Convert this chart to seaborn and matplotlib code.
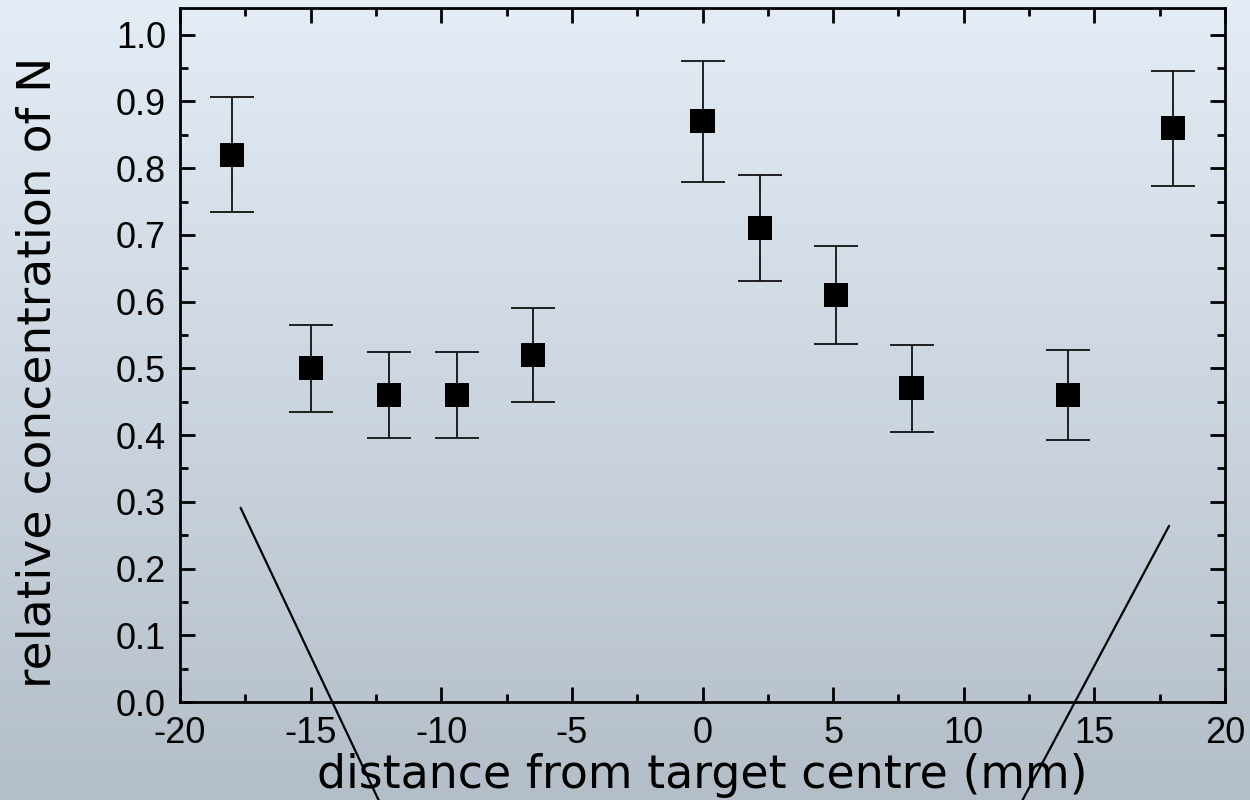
import matplotlib
matplotlib.use("Agg")
import matplotlib.pyplot as plt
import numpy as np
import pandas as pd
import seaborn as sns
from matplotlib.ticker import MultipleLocator

# measured points
distance_mm = [-18.0, -15.0, -12.0, -9.4, -6.5, 0.0, 2.2, 5.1, 8.0, 14.0, 18.0]
rel_conc = [0.82, 0.50, 0.46, 0.46, 0.52, 0.87, 0.71, 0.61, 0.47, 0.46, 0.86]
rel_err = [0.086, 0.065, 0.065, 0.065, 0.07, 0.09, 0.079, 0.073, 0.065, 0.067, 0.086]

# two guide lines that run out of the frame
left_line_x = [-17.68, -12.0]
left_line_y = [0.291, -0.18]
right_line_x = [17.86, 11.8]
right_line_y = [0.264, -0.18]

x_ticks = [-20, -15, -10, -5, 0, 5, 10, 15, 20]
y_ticks = [0.0, 0.1, 0.2, 0.3, 0.4, 0.5, 0.6, 0.7, 0.8, 0.9, 1.0]

df = pd.DataFrame({"distance": distance_mm, "conc": rel_conc, "err": rel_err})

sns.set_style("ticks")
plt.rcParams["font.family"] = ["Liberation Sans", "DejaVu Sans"]
for key in ["text.color", "axes.labelcolor", "xtick.color", "ytick.color"]:
    plt.rcParams[key] = "black"

fig = plt.figure(figsize=(12.5, 8), dpi=100)

# gradient background over the whole figure
bg = fig.add_axes([0, 0, 1, 1], zorder=-10)
top_col = np.array([228, 237, 246]) / 255
bot_col = np.array([180, 190, 201]) / 255
t = np.linspace(0, 1, 256)[:, None]
grad = top_col[None, None, :] * (1 - t[:, :, None]) + bot_col[None, None, :] * t[:, :, None]
bg.imshow(grad, aspect="auto", extent=[0, 1, 0, 1])
bg.axis("off")

ax = fig.add_axes([0.144, 0.1225, 0.836, 0.8675])
ax.patch.set_alpha(0)

ax.errorbar(df["distance"], df["conc"], yerr=df["err"], fmt="none",
            ecolor="black", elinewidth=1.2, capsize=15.5, capthick=1.2, zorder=2)
sns.scatterplot(data=df, x="distance", y="conc", marker="s", s=300,
                color="black", edgecolor="none", ax=ax, zorder=3)

ax.plot(left_line_x, left_line_y, color="black", lw=1.6, clip_on=False, zorder=4)
ax.plot(right_line_x, right_line_y, color="black", lw=1.6, clip_on=False, zorder=4)

ax.set_xlim(-20, 20)
ax.set_ylim(0, 1.04)
ax.set_xticks(x_ticks)
ax.set_xticklabels([str(v) for v in x_ticks])
ax.set_yticks(y_ticks)
ax.set_yticklabels([f"{v:.1f}" for v in y_ticks])
ax.xaxis.set_minor_locator(MultipleLocator(2.5))
ax.yaxis.set_minor_locator(MultipleLocator(0.05))

for side in ["left", "right", "top", "bottom"]:
    ax.spines[side].set_visible(True)
    ax.spines[side].set_linewidth(2)
    ax.spines[side].set_color("black")

ax.tick_params(which="both", direction="in", top=True, right=True, width=2, color="black")
ax.tick_params(which="major", length=11, labelsize=26, pad=10)
ax.tick_params(which="minor", length=5.5)

ax.set_xlabel("distance from target centre (mm)", fontsize=33, family="DejaVu Sans")
ax.xaxis.set_label_coords(0.5, -0.073)
ax.set_ylabel("relative concentration of N", fontsize=34, family="DejaVu Sans")
ax.yaxis.set_label_coords(-0.114, 0.475)

fig.savefig("out.png", dpi=100)
